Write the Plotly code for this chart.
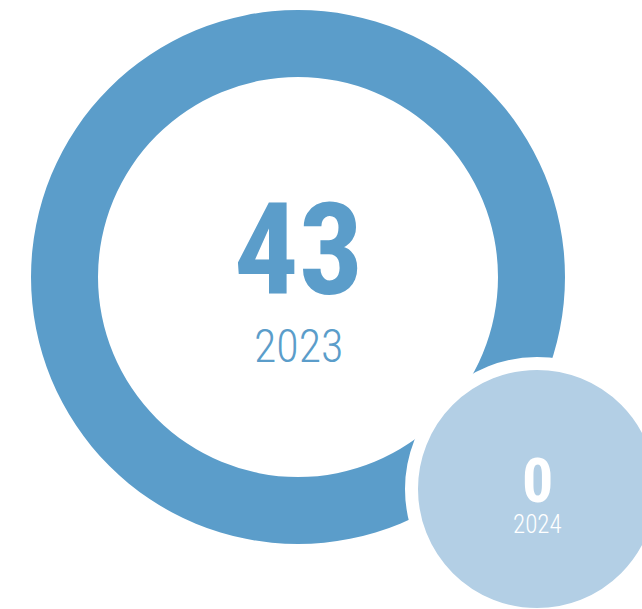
import plotly.graph_objects as go

# Yearly counts shown as a ring (current year) and a bubble (next year)
years = ["2023", "2024"]
counts = [43, 0]

W, H = 642, 609
RING_COLOR = "#5b9dca"
BUBBLE_COLOR = "#b3cfe5"
FONT = "Roboto Condensed, Open Sans Condensed, Liberation Sans Narrow, DejaVu Sans Condensed, sans-serif"

# ring geometry in pixels (centre x, centre y from top, outer radius)
ring_cx, ring_cy, ring_r = 298, 277, 267
ring_hole = 200 / 267
# bubble geometry in pixels: visible disk radius and white halo width
bub_cx, bub_cy, bub_r, halo = 537, 489, 119, 13


def px_x(v):
    return v / W


def px_y(v):
    return 1 - v / H


fig = go.Figure()

fig.add_trace(go.Pie(
    labels=[years[0]],
    values=[counts[0]],
    hole=ring_hole,
    sort=False,
    textinfo="none",
    hoverinfo="skip",
    showlegend=False,
    marker=dict(colors=[RING_COLOR], line=dict(width=0)),
    domain=dict(
        x=[px_x(ring_cx - ring_r), px_x(ring_cx + ring_r)],
        y=[px_y(ring_cy + ring_r), px_y(ring_cy - ring_r)],
    ),
))

r_edge = bub_r + halo / 2
fig.add_shape(
    type="circle", xref="paper", yref="paper", layer="above",
    x0=px_x(bub_cx - r_edge), x1=px_x(bub_cx + r_edge),
    y0=px_y(bub_cy + r_edge), y1=px_y(bub_cy - r_edge),
    fillcolor=BUBBLE_COLOR, line=dict(color="white", width=halo),
)

annotations = [
    dict(text=f"<b>{counts[0]}</b>", x=px_x(ring_cx), y=px_y(250),
         font=dict(family=FONT, size=128, color=RING_COLOR)),
    dict(text=years[0], x=px_x(ring_cx), y=px_y(346),
         font=dict(family=FONT, size=46, weight=300, color=RING_COLOR)),
    dict(text=f"<b>{counts[1]}</b>", x=px_x(bub_cx), y=px_y(480),
         font=dict(family=FONT, size=62, color="white")),
    dict(text=years[1], x=px_x(bub_cx), y=px_y(524),
         font=dict(family=FONT, size=25, weight=300, color="white")),
]
for a in annotations:
    fig.add_annotation(xref="paper", yref="paper", showarrow=False,
                       xanchor="center", yanchor="middle", **a)

fig.update_layout(
    width=W, height=H,
    margin=dict(l=0, r=0, t=0, b=0),
    paper_bgcolor="white", plot_bgcolor="white",
    showlegend=False,
)

fig.write_html("out.html", config=dict(displayModeBar=False))
